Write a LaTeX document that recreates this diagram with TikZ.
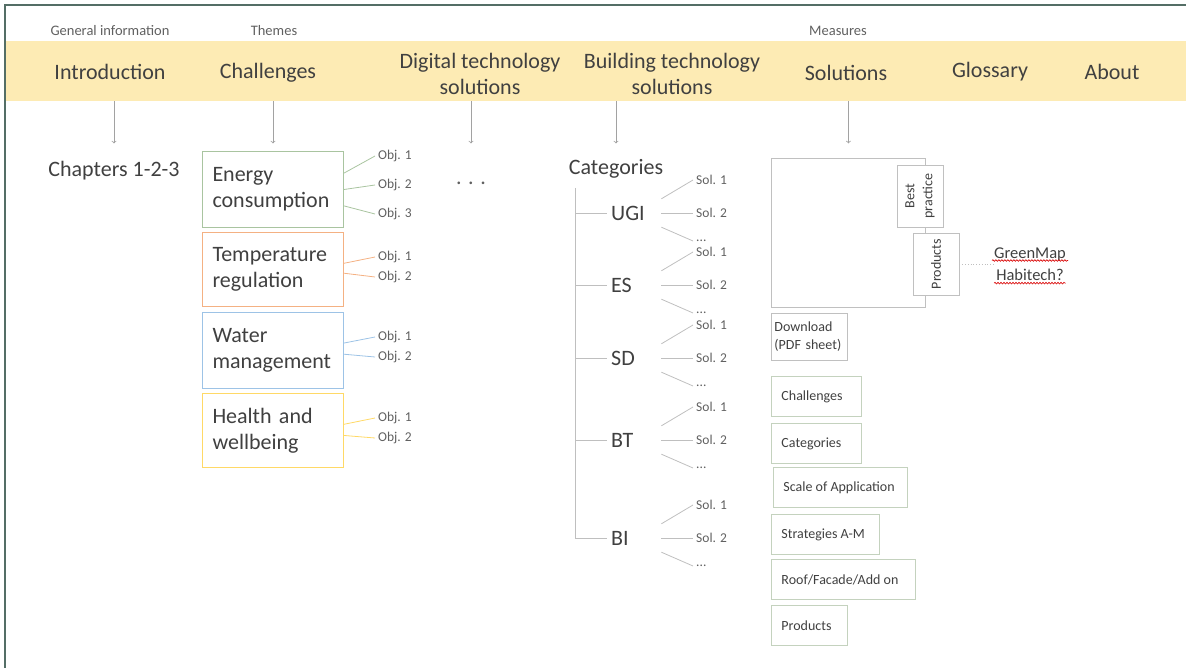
\documentclass[tikz,border=0pt]{standalone}
\usepackage{fontspec}
\setmainfont{Carlito}
\usetikzlibrary{positioning,decorations.pathmorphing}

\definecolor{bandyellow}{RGB}{253,235,180}
\definecolor{framegreen}{RGB}{84,110,102}
\definecolor{ink}{RGB}{64,64,64}
\definecolor{softink}{RGB}{96,96,96}
\definecolor{linkgray}{RGB}{191,191,191}
\definecolor{boxgray}{RGB}{192,192,192}
\definecolor{energycol}{RGB}{169,196,160}
\definecolor{tempcol}{RGB}{244,177,131}
\definecolor{watercol}{RGB}{157,195,230}
\definecolor{healthcol}{RGB}{255,217,102}
\definecolor{measurecol}{RGB}{196,210,190}

\tikzset{
  big/.style={font=\fontsize{22}{26}\selectfont, text=ink},
  group/.style={font=\fontsize{14.5}{17}\selectfont, text=softink},
  small/.style={font=\fontsize{13.5}{16}\selectfont, text=softink, inner sep=3pt},
  theme/.style={big, draw=#1, line width=1pt, minimum width=141pt, minimum height=76pt,
    text width=121pt, inner xsep=10pt, align=left, anchor=north west},
  measure/.style={font=\fontsize{14}{18}\selectfont, text=ink, draw=#1, line width=0.9pt},
  measure/.default=none,
  note/.style={font=\fontsize{16.5}{20}\selectfont, text=ink, inner sep=2pt},
  link/.style={draw=linkgray, line width=0.8pt},
  down/.style={draw=linkgray!85!black, line width=0.8pt, arrows=->},
  squiggle/.style={draw=red!85!black, line width=0.6pt,
    decorate, decoration={snake, amplitude=0.8pt, segment length=3pt}}
}

\begin{document}
\begin{tikzpicture}[x=1pt,y=-1pt]
\useasboundingbox (0,0) rectangle (1186,668);

% menu bar
\node[fill=bandyellow, minimum width=1181pt, minimum height=60pt, inner sep=0,
  anchor=north west] (menu) at (5,41) {};
\draw[framegreen, line width=2pt] (5,668) -- (5,5) -- (1186,5);

\node[group] (general) at (110,31) {General information};
\node[group] (themes) at (274,31) {Themes};
\node[group] (measures) at (838,31) {Measures};

\node[big] (intro) at (110,72) {Introduction};
\node[big] (chal) at (268,73) {Challenges};
\node[big, align=center] (digital) at (480,74) {Digital technology\\solutions};
\node[big, align=center] (building) at (672,74) {Building technology\\solutions};
\node[big] (solut) at (846,73) {Solutions};
\node[big] (gloss) at (990,72) {Glossary};
\node[big] (about) at (1112,72) {About};

% introduction
\node[big] (chapters) at (114,171) {Chapters 1-2-3};

% challenges
\node[theme=energycol] (energy) at (202,151) {Energy\\consumption};
\node[theme=tempcol, minimum height=74pt] (temp) at (202,232) {Temperature\\regulation};
\node[theme=watercol] (water) at (202,312) {Water\\management};
\node[theme=healthcol, minimum height=74pt] (health) at (202,393) {Health and\\wellbeing};

\foreach \n/\y in {1/156,2/185,3/214}
  \node[small, anchor=west] (energy-\n) at (375,\y) {Obj. \n};
\foreach \n/\y in {1/257,2/277}
  \node[small, anchor=west] (temp-\n) at (375,\y) {Obj. \n};
\foreach \n/\y in {1/337,2/357}
  \node[small, anchor=west] (water-\n) at (375,\y) {Obj. \n};
\foreach \n/\y in {1/418,2/438}
  \node[small, anchor=west] (health-\n) at (375,\y) {Obj. \n};

\draw[energycol, line width=0.8pt] (energy.13) -- (energy-1.west);
\draw[energycol, line width=0.8pt] (energy.east) -- (energy-2.west);
\draw[energycol, line width=0.8pt] (energy.-13) -- (energy-3.west);
\draw[tempcol, line width=0.8pt] (temp.5) -- (temp-1.west);
\draw[tempcol, line width=0.8pt] (temp.-3) -- (temp-2.west);
\draw[watercol, line width=0.8pt] (water.6) -- (water-1.west);
\draw[watercol, line width=0.8pt] (water.-3) -- (water-2.west);
\draw[healthcol, line width=0.8pt] (health.5) -- (health-1.west);
\draw[healthcol, line width=0.8pt] (health.-4) -- (health-2.west);

% digital technology
\node[big, text=softink] (dots) at (471,183) {. . .};

% building technology
\node[big] (categ) at (616,169) {Categories};
\coordinate (trunk) at (575,188);
\foreach \c/\y in {UGI/213,ES/285,SD/358,BT/440,BI/538} {
  \node[big, anchor=west, text width=46pt, inner sep=4pt, minimum height=28pt] (\c) at (607,\y) {\c};
  \node[small, anchor=west] (\c-1) at (693,\y-33) {Sol. 1};
  \node[small, anchor=west] (\c-2) at (693,\y) {Sol. 2};
  \node[small, anchor=west] (\c-3) at (693,\y+28) {...};
  \draw[link] (\c.north east) -- (\c-1.west);
  \draw[link] (\c.east) -- (\c-2.west);
  \draw[link] (\c.south east) -- (\c-3.west);
  \draw[link] (trunk |- \c.west) -- (\c.west);
}
\draw[link] (trunk) -- (trunk |- BI.west);

% solutions
\node[draw=boxgray, line width=0.9pt, minimum width=154pt, minimum height=149pt,
  inner sep=0, anchor=north west] (measbox) at (771,158) {};
\node[measure=boxgray, fill=white, rotate=90, minimum width=62pt, minimum height=46pt,
  align=center, inner sep=2pt] (best) at (920,196) {Best\\practice};
\node[measure=boxgray, fill=white, rotate=90, minimum width=62pt, minimum height=46pt,
  inner sep=2pt] (prod) at (936,264) {Products};
\node[note] (gm) at (1030,254) {GreenMap};
\node[note] (hab) at (1030,275) {Habitech?};
\draw[squiggle] ([yshift=-2.5pt]gm.base west) -- ([yshift=-2.5pt]gm.base east);
\draw[squiggle] ([yshift=-2.5pt]hab.base west) -- ([yshift=-2.5pt]hab.base east);
\draw[link, dotted] (prod.south) -- (prod.south -| hab.west);

\node[measure=boxgray, anchor=north west, text width=70pt, inner sep=3pt,
  minimum height=47pt, align=left] (download) at (771,313) {Download\\(PDF sheet)};

\foreach \t/\x/\y/\w [count=\i, evaluate=\w as \tw using \w-20] in
  {Challenges/771/376/90, Categories/771/423/90, Scale of Application/773/467/134,
   Strategies A-M/771/514/108, {Roof/Facade/Add on}/771/559/144, Products/771/605/76}
  \node[measure=measurecol, anchor=north west, inner xsep=10pt, minimum height=40pt]
    (m\i) at (\x,\y) {\makebox[\tw pt][l]{\t}};

% arrows from the menu bar
\foreach \t in {chapters,energy,dots,categ,measbox}
  \draw[down] (\t |- menu.south) -- ++(0,42);
\end{tikzpicture}
\end{document}
